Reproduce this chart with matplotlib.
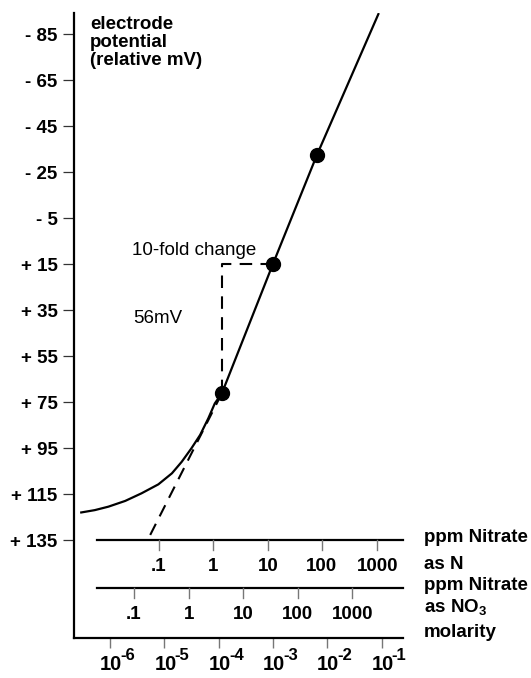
import numpy as np
import matplotlib.pyplot as plt

# electrode response: x = log10(molarity), y = relative mV
curve_logm = [-6.55, -6.28, -6.03, -5.72, -5.42, -5.11, -4.86, -4.68, -4.50,
              -4.34, -4.19, -4.07, -3.94, -3.00, -2.19, -1.05]
curve_mv = [123.1, 122.0, 120.5, 118.0, 114.7, 110.8, 106.0, 101.0, 95.1,
            89.3, 82.1, 75.6, 71.2, 15.0, -32.4, -94.1]

# calibration points
dot_logm = [-3.94, -3.00, -2.19]
dot_mv = [71.2, 15.0, -32.4]

# ideal (Nernstian) extension below the linear range
tangent_logm = [-5.26, -3.94]
tangent_mv = [132.8, 71.2]

# 10-fold change bracket
bracket_logm = [-3.00, -3.94, -3.94]
bracket_mv = [15.0, 15.0, 71.2]

mv_ticks = [-85, -65, -45, -25, -5, 15, 35, 55, 75, 95, 115, 135]
mv_labels = ['- 85', '- 65', '- 45', '- 25', '- 5', '+ 15', '+ 35', '+ 55',
             '+ 75', '+ 95', '+ 115', '+ 135']

molarity_exp = [-6, -5, -4, -3, -2, -1]

ppm_labels = ['.1', '1', '10', '100', '1000']
ppm_n_pos = [-5.10, -4.10, -3.09, -2.10, -1.08]
ppm_no3_pos = [-5.56, -4.55, -3.55, -2.54, -1.54]

BOLD = ['Liberation Sans', 'DejaVu Sans']

fig = plt.figure(figsize=(5.31, 6.78), dpi=100)
ax = fig.add_axes([0.1394, 0.0590, 0.6196, 0.9218])

ax.set_xlim(-6.663, -0.604)
ax.set_ylim(177.6, -94.13)

for s in ['top', 'right']:
    ax.spines[s].set_visible(False)
for s in ['left', 'bottom']:
    ax.spines[s].set_linewidth(1.6)

# curve, tangent and bracket
ax.plot(curve_logm, curve_mv, color='black', lw=1.6, solid_capstyle='butt')
ax.plot(tangent_logm, tangent_mv, color='black', lw=1.5, dashes=(6, 4))
ax.plot(bracket_logm, bracket_mv, color='black', lw=1.5, dashes=(6, 4))
ax.plot(dot_logm, dot_mv, 'o', color='black', ms=10, zorder=5)

ax.text(-5.60, 11.1, '10-fold change', family=BOLD, fontsize=13.5,
        va='baseline', ha='left')
ax.text(-5.576, 40.6, '56mV', family=BOLD, fontsize=13.5,
        va='baseline', ha='left')

# y axis
ax.set_yticks(mv_ticks)
ax.set_yticklabels(mv_labels, family=BOLD, fontweight='bold', fontsize=13.5)
ax.tick_params(axis='y', direction='out', length=7.9, width=0.9,
               color='#333333', pad=4)
ax.text(-6.368, -93.0, 'electrode\npotential\n(relative mV)', family=BOLD,
        fontweight='bold', fontsize=13.5, va='top', ha='left', linespacing=1.08)

# molarity scale on the bottom spine, exponents drawn with a plain hyphen
ax.set_xticks(molarity_exp)
ax.set_xticklabels([])
ax.tick_params(axis='x', direction='out', length=7.2, width=1.0,
               color='#777777')
for e in molarity_exp:
    ax.text(e + 0.02, 191.5, '10', family=BOLD, fontweight='bold',
            fontsize=14.5, ha='center', va='baseline')
    ax.text(e + 0.19, 187.0, '-%d' % abs(e), family=BOLD, fontweight='bold',
            fontsize=12, ha='left', va='baseline')

# ppm scales
x_start, x_end = -6.24, -0.604
for y_line, pos, y_lab in [(135.0, ppm_n_pos, 146.7),
                           (155.9, ppm_no3_pos, 167.2)]:
    ax.plot([x_start, x_end], [y_line, y_line], color='black', lw=1.6,
            clip_on=False)
    for p, lab in zip(pos, ppm_labels):
        ax.plot([p, p], [y_line, y_line + 4.3], color='#777777', lw=1.0,
                clip_on=False)
        ax.text(p, y_lab, lab, family=BOLD, fontweight='bold', fontsize=13.5,
                ha='center', va='center')

x_right = -0.217
right_labels = ['ppm Nitrate', 'as N', 'ppm Nitrate', r'as NO$_{\mathregular{3}}$',
                'molarity']
right_baselines = [135.9, 147.6, 156.7, 166.7, 177.2]
for lab, yb in zip(right_labels, right_baselines):
    ax.text(x_right, yb, lab, family=BOLD, fontweight='bold', fontsize=13.5,
            ha='left', va='baseline')

plt.savefig('out.png', dpi=100)
plt.close()
